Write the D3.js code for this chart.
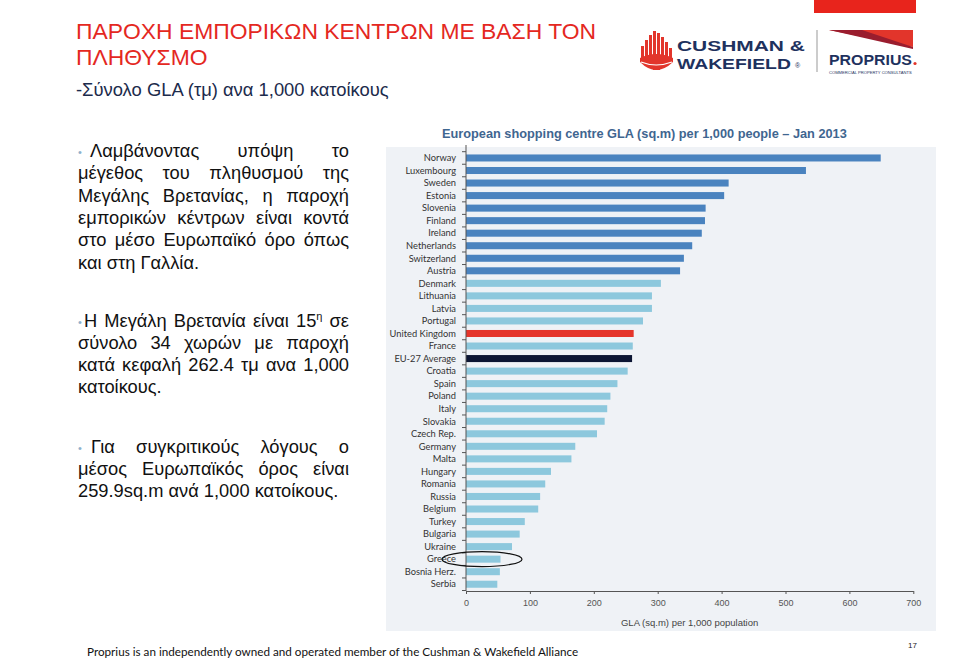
<!DOCTYPE html>
<html><head><meta charset="utf-8">
<script src="https://cdn.jsdelivr.net/npm/d3@7"></script>
<style>
html,body{margin:0;padding:0;background:#fff;}
svg{display:block;}
</style></head>
<body>
<svg id="c" width="960" height="662"></svg>
<script>
// ---- DATA ----
const countries = ["Norway","Luxembourg","Sweden","Estonia","Slovenia","Finland","Ireland","Netherlands","Switzerland","Austria","Denmark","Lithuania","Latvia","Portugal","United Kingdom","France","EU-27 Average","Croatia","Spain","Poland","Italy","Slovakia","Czech Rep.","Germany","Malta","Hungary","Romania","Russia","Belgium","Turkey","Bulgaria","Ukraine","Greece","Bosnia Herz.","Serbia"];
const values = [649,532,411,404,375,374,369,354,341,335,305,291,291,277,262.4,261,259.9,253,237,226,221,217,205,171,165,133,124,116,113,92,84,72,54,53,49];
const barTier = ["top","top","top","top","top","top","top","top","top","top","other","other","other","other","uk","other","eu","other","other","other","other","other","other","other","other","other","other","other","other","other","other","other","other","other","other"];
const xTicks = [0,100,200,300,400,500,600,700];
const chartTitle = "European shopping centre GLA (sq.m) per 1,000 people \u2013 Jan 2013";
const xAxisTitle = "GLA (sq.m) per 1,000 population";
const highlighted = "Greece";
const slideTitle = ["ΠΑΡΟΧΗ ΕΜΠΟΡΙΚΩΝ ΚΕΝΤΡΩΝ ΜΕ ΒΑΣΗ ΤΟΝ","ΠΛΗΘΥΣΜΟ"];
const slideSubtitle = "-Σύνολο GLA (τμ) ανα 1,000 κατοίκους";
const para1 = ["Λαμβάνοντας υπόψη το","μέγεθος του πληθυσμού της","Μεγάλης Βρετανίας, η παροχή","εμπορικών κέντρων είναι κοντά","στο μέσο Ευρωπαϊκό όρο όπως","και στη Γαλλία."];
const para2 = ["Η Μεγάλη Βρετανία είναι 15^η σε","σύνολο 34 χωρών με παροχή","κατά κεφαλή 262.4 τμ ανα 1,000","κατοίκους."];
const para3 = ["Για συγκριτικούς λόγους ο","μέσος Ευρωπαϊκός όρος είναι","259.9sq.m ανά 1,000 κατοίκους."];
const footerText = "Proprius is an independently owned and operated member of the Cushman & Wakefield Alliance";
const pageNumber = "17";

// ---- DRAW ----
const svg = d3.select("#c");
const ARIAL = "'Liberation Sans', Arial, sans-serif";
const GILL = "Lato, 'Open Sans', sans-serif";

function fitWidth(sel, w){
  const cur = sel.node().getComputedTextLength();
  const fs = parseFloat(sel.style("font-size"));
  const nfs = fs*w/cur;
  sel.style("font-size", nfs+"px");
  return nfs;
}
// stretch horizontally only
function stretchX(sel, x0, y0, w){
  const cur = sel.node().getComputedTextLength();
  sel.attr("x",0).attr("y",0).attr("transform",`translate(${x0},${y0}) scale(${w/cur},1)`);
}

// red bar top-right
svg.append("rect").attr("x",814).attr("y",0).attr("width",102).attr("height",13).attr("fill","#e8241c");

// slide title
const st = svg.append("text").style("font-family",ARIAL).style("font-size","20px").attr("fill","#e4281f");
const st1 = st.append("tspan").attr("x",76).attr("y",39).text(slideTitle[0]);
st.append("tspan").attr("x",76).attr("y",64.5).text(slideTitle[1]);
{
  const w = st1.node().getComputedTextLength();
  st.style("font-size", (20*520/w)+"px");
}
svg.append("text").attr("x",76).attr("y",96).style("font-family",ARIAL).style("font-size","16px")
  .attr("fill","#1c2b4c").text(slideSubtitle).call(s=>fitWidth(s,313));

// logos
const navy = "#1e315e";
const logo = svg.append("g");
const ic = logo.append("g").attr("fill","#e2352b");
const bars = [[641,46,60],[645,40,64],[649,35,68],[653,31,70],[657,33,70],[661,37,68],[665,42,64],[669,48,60]];
bars.forEach(b=>ic.append("rect").attr("x",b[0]).attr("y",b[1]).attr("width",3).attr("height",b[2]-b[1]));
ic.append("path").attr("d","M640,58 Q656,50 673,58 L673,62 Q656,78 640,62 Z");
logo.append("path").attr("d","M641,62 Q656,68 672,62").attr("stroke","#fff").attr("stroke-width",1.2).attr("fill","none");
logo.append("text").style("font-family",ARIAL).style("font-weight","bold").style("font-size","15.5px")
  .attr("fill",navy).text("CUSHMAN &").call(s=>stretchX(s,677,51,128));
logo.append("text").style("font-family",ARIAL).style("font-weight","bold").style("font-size","15.5px")
  .attr("fill",navy).text("WAKEFIELD").call(s=>stretchX(s,677,68.5,114));
logo.append("text").attr("x",795).attr("y",68).style("font-family",ARIAL).style("font-size","7px").attr("fill",navy).text("®");
logo.append("line").attr("x1",817).attr("x2",817).attr("y1",30).attr("y2",72).attr("stroke","#999").attr("stroke-width",1);
logo.append("polygon").attr("points","829,30 913,30 913,47").attr("fill","#e2352b");
logo.append("polygon").attr("points","829,30 862,30 913,47 913,49").attr("fill","#9a1d2e");
logo.append("text").style("font-family",ARIAL).style("font-weight","bold").style("font-size","15.5px")
  .attr("fill",navy).text("PROPRIUS").call(s=>stretchX(s,829,65,83));
logo.append("circle").attr("cx",915).attr("cy",63.5).attr("r",1.6).attr("fill","#e2352b");
logo.append("text").attr("x",829).attr("y",73.5).style("font-family",ARIAL).style("font-size","4px")
  .attr("fill",navy).text("COMMERCIAL PROPERTY CONSULTANTS").call(s=>fitWidth(s,83));

// paragraphs with justification
const pfs = 18.3;
function drawWord(g, w, x, y){
  const t = g.append("text").attr("x",x).attr("y",y).style("font-family",ARIAL).style("font-size",pfs+"px").attr("fill","#111");
  if(w.includes("^")){
    const [a,b] = w.split("^");
    t.append("tspan").text(a);
    t.append("tspan").attr("dy",-7).style("font-size","11px").text(b);
  } else t.text(w);
  return t;
}
function drawPara(lines, y0, lh, bulletX, firstX, x1){
  const g = svg.append("g");
  g.append("text").attr("x",bulletX).attr("y",y0-1).style("font-family",ARIAL).style("font-size","11px").attr("fill","#8fb0cc").text("•");
  lines.forEach((ln,i)=>{
    const y = y0 + i*lh;
    const x0 = i===0 ? firstX : 78;
    const words = ln.split(" ");
    const ts = words.map(w=>drawWord(g,w,0,y));
    const ws = ts.map(t=>t.node().getComputedTextLength());
    const last = i===lines.length-1;
    const gap = (!last && words.length>1) ? (x1-x0-d3.sum(ws))/(words.length-1) : pfs*0.278;
    let x = x0;
    ts.forEach((t,j)=>{ t.attr("x",x); x += ws[j]+gap; });
  });
}
drawPara(para1,157,22.3,78,90,349);
drawPara(para2,327,22,78,84,349);
drawPara(para3,453,22,78,91,349);

// ---- chart ----
svg.append("rect").attr("x",386).attr("y",147).attr("width",550).attr("height",484).attr("fill","#eff2f6");

svg.append("text").attr("x",442).attr("y",138).style("font-family",ARIAL).style("font-weight","bold").style("font-size","13px")
  .attr("fill","#3f6690").text(chartTitle).call(s=>fitWidth(s,405));

const x = d3.scaleLinear().domain([0,700]).range([466,913.3]);
const y = d3.scaleBand().domain(countries).range([151.7,590.5]).paddingInner(0.44).paddingOuter(0.22);
const color = {top:"#4a83bf", other:"#8dc8dd", uk:"#e5352b", eu:"#0c1533"};

svg.append("g").selectAll("rect").data(countries).join("rect")
  .attr("x",x(0)).attr("y",d=>y(d)).attr("height",y.bandwidth())
  .attr("width",(d,i)=>x(values[i])-x(0))
  .attr("fill",(d,i)=>color[barTier[i]]);

// y axis labels
svg.append("g").selectAll("text").data(countries).join("text")
  .attr("x",456).attr("y",d=>y(d)+y.bandwidth()/2).attr("dy","0.35em").attr("text-anchor","end")
  .style("font-family",GILL).style("font-size","9.3px").attr("fill","#333").text(d=>d);
const step = y.step();
const yTop = y(countries[0]) - (step - y.bandwidth())/2;
svg.append("line").attr("x1",466).attr("x2",466).attr("y1",145).attr("y2",591).attr("stroke","#555");
svg.append("g").selectAll("line").data(d3.range(countries.length+1)).join("line")
  .attr("x1",462).attr("x2",466).attr("y1",i=>yTop+i*step).attr("y2",i=>yTop+i*step).attr("stroke","#555");

// x axis
const xa = svg.append("g").attr("transform","translate(0,591)")
  .call(d3.axisBottom(x).tickValues(xTicks).tickSizeInner(3).tickSizeOuter(0).tickPadding(6));
xa.select(".domain").attr("stroke","#555");
xa.selectAll(".tick line").attr("stroke","#555");
xa.selectAll("text").style("font-family",ARIAL).style("font-size","9px").attr("fill","#555");
svg.append("text").attr("x",x(350)).attr("y",626).attr("text-anchor","middle").style("font-family",ARIAL).style("font-size","9.5px")
  .attr("fill","#444").text(xAxisTitle);

// Greece annotation ellipse
svg.append("ellipse").attr("cx",482).attr("cy",y(highlighted)+y.bandwidth()/2)
  .attr("rx",40).attr("ry",7.5).attr("fill","none").attr("stroke","#111").attr("stroke-width",1.2);

// footer
svg.append("text").attr("x",87).attr("y",656).style("font-family",GILL).style("font-size","12px").attr("fill","#111")
  .text(footerText).call(s=>fitWidth(s,492));
svg.append("text").attr("x",908).attr("y",648).style("font-family",ARIAL).style("font-size","8px").attr("fill","#222").text(pageNumber);
</script>
</body></html>
